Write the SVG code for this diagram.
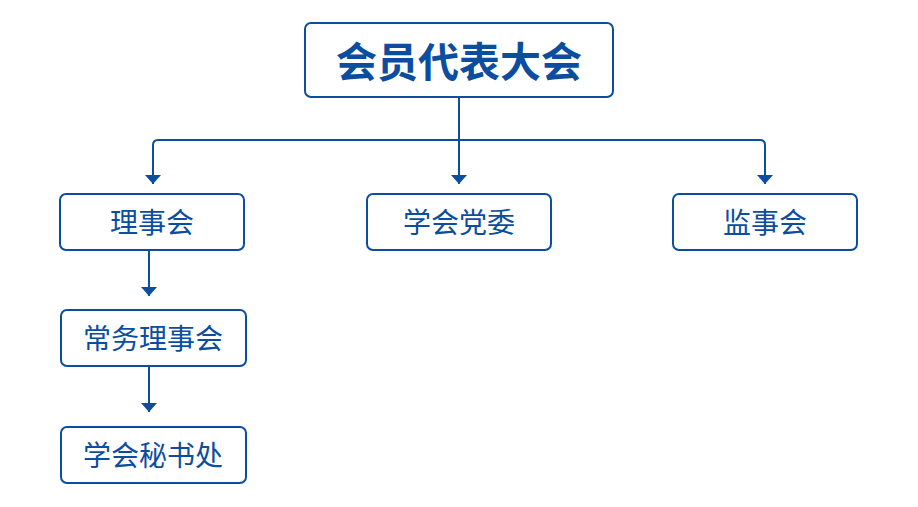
<svg xmlns="http://www.w3.org/2000/svg" width="918" height="507" viewBox="0 0 918 507">
<defs>
<style>
.box{fill:#fff;stroke:#0b4d9f;stroke-width:2}
.lbl{fill:#0b4d9f;font-family:"Noto Sans CJK SC","Noto Sans",sans-serif;font-size:28px;text-anchor:middle;dominant-baseline:central}
.title{font-size:41px;font-weight:bold}
.ln{fill:none;stroke:#0b4d9f;stroke-width:2}
</style>
<marker id="ah" viewBox="0 0 9 16" markerWidth="9" markerHeight="16" refX="9" refY="8" orient="auto" markerUnits="userSpaceOnUse">
<path d="M0,0 L9,8 L0,16 Z" fill="#0b4d9f"/>
</marker>
</defs>
<rect width="918" height="507" fill="#fff"/>
<g id="connectors">
<line class="ln" x1="459" y1="97" x2="459" y2="141"/>
<path class="ln" d="M153,184 V145 Q153,140 158,140 H760 Q765,140 765,145 V184"/>
<path class="ln" d="M153,176 V184" marker-end="url(#ah)"/>
<path class="ln" d="M765,176 V184" marker-end="url(#ah)"/>
<path class="ln" d="M459,140 V184" marker-end="url(#ah)"/>
<path class="ln" d="M149,250 V296" marker-end="url(#ah)"/>
<path class="ln" d="M149,366 V412" marker-end="url(#ah)"/>
</g>
<g id="n-top">
<rect class="box" x="305" y="23" width="308" height="74" rx="6"/>
<text class="lbl title" x="459" y="59">会员代表大会</text>
</g>
<g id="n-lishihui">
<rect class="box" x="60" y="194" width="184" height="56" rx="6"/>
<text class="lbl" x="152" y="221">理事会</text>
</g>
<g id="n-dangwei">
<rect class="box" x="367" y="194" width="184" height="56" rx="6"/>
<text class="lbl" x="459" y="221">学会党委</text>
</g>
<g id="n-jianshihui">
<rect class="box" x="673" y="194" width="184" height="56" rx="6"/>
<text class="lbl" x="765" y="221">监事会</text>
</g>
<g id="n-changwu">
<rect class="box" x="61" y="310" width="185" height="56" rx="6"/>
<text class="lbl" x="153" y="337">常务理事会</text>
</g>
<g id="n-mishuchu">
<rect class="box" x="61" y="427" width="185" height="56" rx="6"/>
<text class="lbl" x="153" y="454">学会秘书处</text>
</g>
</svg>
